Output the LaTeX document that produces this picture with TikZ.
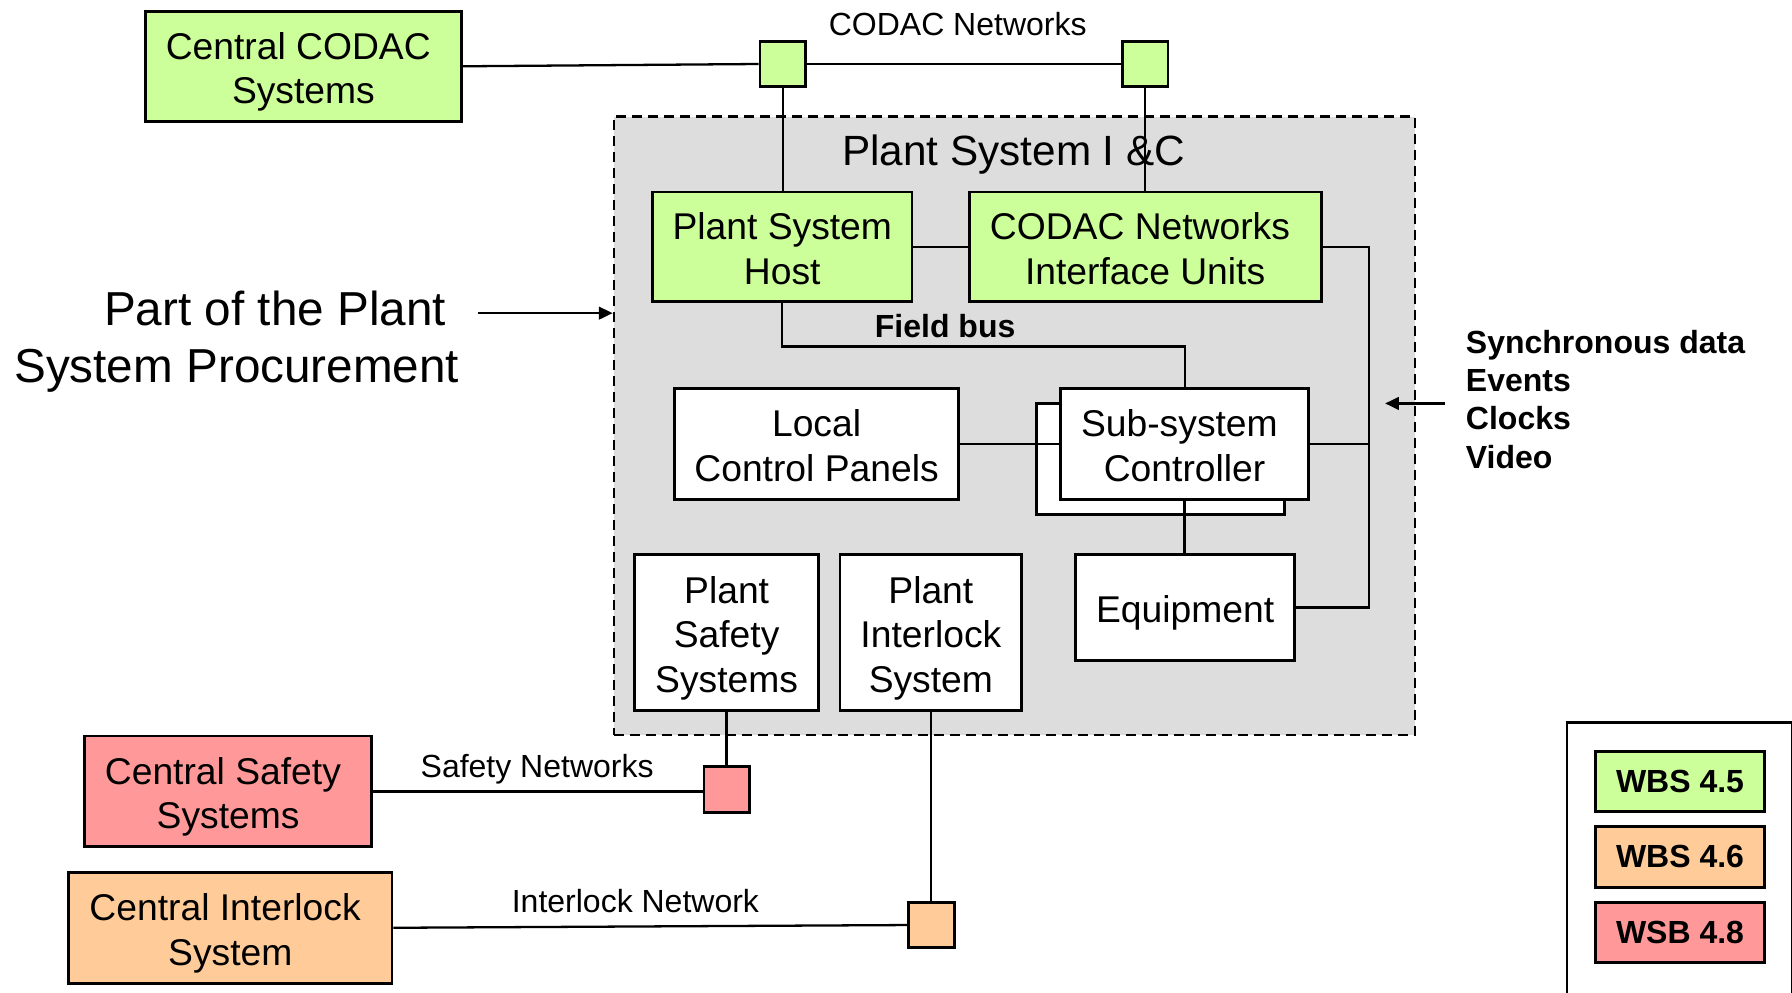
\documentclass[tikz,border=0pt]{standalone}
\usepackage{fontspec}
\setmainfont{Liberation Sans}
\usetikzlibrary{arrows.meta}
\definecolor{wbsgreen}{RGB}{204,255,153}
\definecolor{wbsorange}{RGB}{255,204,153}
\definecolor{wbsred}{RGB}{255,153,153}
\definecolor{plantgray}{RGB}{221,221,221}
% invisible struts on the first and last line keep the text block centred on its capitals
\newcommand\boxtop{\rule{0pt}{34.3pt}}
\newcommand\boxbot{\rule[-8pt]{0pt}{8pt}}
% a trailing word space kept at the end of a line
\newcommand\tsp{\hspace*{.278em}}

\begin{document}
\begin{tikzpicture}[x=1pt,y=-1pt,
  box/.style={draw, line width=2.5pt, inner sep=0pt, align=center,
              font=\fontsize{32.6}{39}\selectfont},
  port/.style={draw, line width=2.5pt, inner sep=0pt,
               minimum width=40pt, minimum height=40pt},
  area/.style={draw, line width=1.9pt, dash pattern=on 9pt off 5pt,
               fill=plantgray, inner sep=0pt},
  link/.style={line width=2pt},
  lbl/.style={inner sep=0pt, font=\fontsize{28}{33.6}\selectfont},
  arr/.style={line width=2pt, -{Triangle[length=12pt,width=11pt]}},
  key/.style={draw, line width=2.5pt, inner sep=0pt,
              minimum width=148pt, minimum height=53pt,
              font=\bfseries\fontsize{28}{33.6}\selectfont}
]
\useasboundingbox (0,0) rectangle (1568,868);

% Plant system I&C area
\node[area, minimum width=701pt, minimum height=541pt] (plant) at (887.5,372.5) {};
\node[inner sep=0pt, anchor=base, font=\fontsize{37}{40}\selectfont]
  (title) at (887,145) {Plant System I \&C};

% CODAC side
\node[box, fill=wbsgreen, minimum width=277pt, minimum height=96pt]
  (ccs) at (265.5,58) {\boxtop Central CODAC\tsp\\Systems\boxbot};
\node[port, fill=wbsgreen] (sq1) at (685,56) {};
\node[port, fill=wbsgreen] (sq2) at (1002,56) {};
\node[lbl, anchor=base] (codacnet) at (838,31) {CODAC Networks};

\node[box, fill=wbsgreen, minimum width=227pt, minimum height=96pt]
  (psh) at (684.5,216) {\boxtop Plant System\\Host\boxbot};
\node[box, fill=wbsgreen, minimum width=308pt, minimum height=96pt]
  (niu) at (1002,216) {\boxtop CODAC Networks\tsp\\Interface Units\boxbot};

% Inside the plant system
\node[box, fill=white, minimum width=249pt, minimum height=97pt]
  (lcp) at (714.5,388.5) {\boxtop Local\\Control Panels\boxbot};
\node[box, fill=white, minimum width=217pt, minimum height=97pt]
  (sscb) at (1015.5,401.5) {};
\node[box, fill=white, minimum width=192pt, minimum height=93pt]
  (eq) at (1037,531.5) {\boxtop Equipment\boxbot};
\node[box, fill=white, minimum width=161pt, minimum height=137pt]
  (pss) at (635.8,553.5) {\boxtop Plant\\Safety\tsp\\Systems\boxbot};
\node[box, fill=white, minimum width=159pt, minimum height=137pt]
  (pis) at (814.5,553.5) {\boxtop Plant\\Interlock\\System\boxbot};

% Safety and interlock side
\node[box, fill=wbsred, minimum width=251pt, minimum height=97pt]
  (css) at (199.6,692.5) {\boxtop Central Safety\tsp\\Systems\boxbot};
\node[port, fill=wbsred] (rsq) at (636,690.8) {};
\node[lbl, anchor=base] (safenet) at (470,680) {Safety Networks};

\node[box, fill=wbsorange, minimum width=283pt, minimum height=97pt]
  (cis) at (201.5,811.8) {\boxtop Central Interlock\tsp\\System\boxbot};
\node[port, fill=wbsorange] (osq) at (815,809.4) {};
\node[lbl, anchor=base] (ilknet) at (556,798) {Interlock Network};

% Connectors
\draw[link] (ccs.east) -- (sq1.west);
\draw[link] (sq1.east) -- (sq2.west);
\draw[link] (sq1.south) -- (sq1.south |- psh.north);
\draw[link] (sq2.south) -- (sq2.south |- niu.north);
\draw[link] (psh.east) -- (niu.west);
\coordinate (bus) at (1198,216);
\draw[link] (niu.east) -- (bus) |- (eq.east);
\draw[link] (psh.south) -- ++(0,38) coordinate (fbus) -| (1037,340);
\draw[link] (lcp.east) -- (sscb.west |- lcp.east);

% Sub-system controller (front card)
\node[box, fill=white, minimum width=217pt, minimum height=97pt]
  (ssc) at (1036.5,388.5) {\boxtop Sub-system\tsp\\Controller\boxbot};
\draw[link] (lcp.east) -- (ssc.west);
\draw[link] (ssc.east) -- (ssc.east -| bus);
\draw[link] (ssc.south) -- (ssc.south |- eq.north);
\draw[link] (pss.south) -- (pss.south |- rsq.north);
\draw[link] (css.east) -- (css.east -| rsq.west);
\draw[link] (pis.south) -- (pis.south |- osq.north);
\draw[link] (cis.east) -- (osq.west);

\node[inner sep=0pt, anchor=base, font=\bfseries\fontsize{28}{33.6}\selectfont]
  (fieldbus) at (827,295) {Field bus};

% Side notes
\node[inner sep=0pt, anchor=east, align=right, font=\fontsize{41.7}{50}\selectfont]
  (procure) at (402,298.6) {Part of the Plant\hspace*{.278em}\\System Procurement};
\coordinate (pptail) at (418,274);
\draw[arr] (pptail) -- (pptail -| plant.west);

\node[inner sep=0pt, anchor=west, align=left, font=\bfseries\fontsize{28}{33.6}\selectfont]
  (timing) at (1282.5,349.4) {Synchronous data\\Events\\Clocks\\Video};
\coordinate (sytail) at (1264,353);
\coordinate (sytip) at (1212,353);
\draw[arr] (sytail) -- (sytip);

% Legend
\begin{scope}
  \clip (0,0) rectangle (1568,868);
  \node[draw, line width=2.2pt, inner sep=0pt, anchor=north west,
        minimum width=197pt, minimum height=280pt] (legend) at (1370,631) {};
\end{scope}
\node[key, fill=wbsgreen] (k45) at (1470,683.8) {WBS 4.5};
\node[key, fill=wbsorange] (k46) at (1470,749.8) {WBS 4.6};
\node[key, fill=wbsred] (k48) at (1470,815.9) {WSB 4.8};
\end{tikzpicture}
\end{document}
